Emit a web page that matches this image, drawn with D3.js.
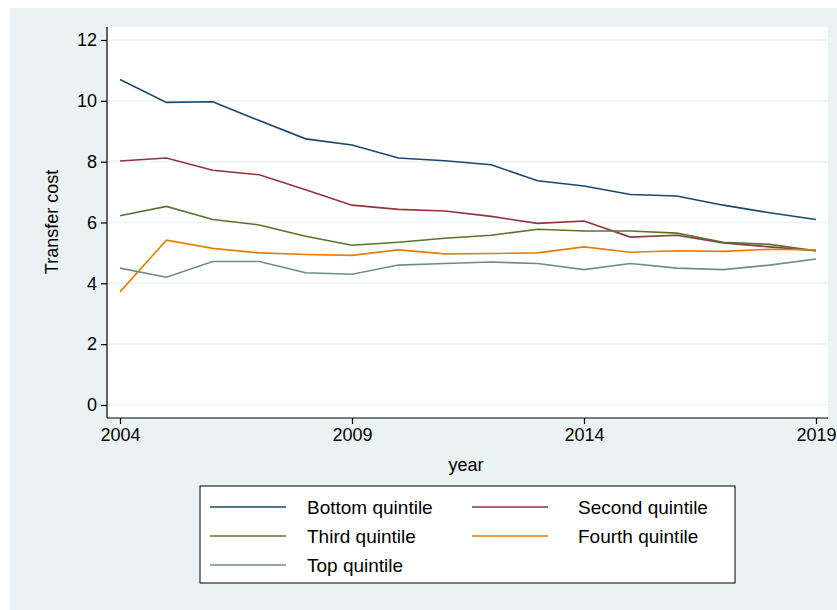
<!DOCTYPE html>
<html><head><meta charset="utf-8">
<script src="https://cdn.jsdelivr.net/npm/d3@7"></script>
<style>body{margin:0;background:#fff}svg{display:block;font-family:Arial,"Liberation Sans",sans-serif}</style>
</head><body><svg id="chart" width="837" height="610"></svg>
<script>
const years = d3.range(2004, 2020);
const bottomQ = [10.7, 9.95, 9.97, 9.35, 8.75, 8.55, 8.12, 8.03, 7.9, 7.37, 7.2, 6.92, 6.87, 6.57, 6.32, 6.1];
const secondQ = [8.02, 8.12, 7.72, 7.57, 7.08, 6.57, 6.43, 6.38, 6.2, 5.97, 6.05, 5.52, 5.58, 5.33, 5.2, 5.07];
const thirdQ = [6.22, 6.53, 6.1, 5.92, 5.55, 5.25, 5.35, 5.48, 5.58, 5.78, 5.72, 5.72, 5.65, 5.35, 5.28, 5.07];
const fourthQ = [3.72, 5.42, 5.15, 5.0, 4.95, 4.92, 5.1, 4.97, 4.98, 5.0, 5.2, 5.02, 5.07, 5.05, 5.12, 5.1];
const topQ = [4.5, 4.2, 4.72, 4.72, 4.35, 4.3, 4.6, 4.65, 4.7, 4.65, 4.45, 4.65, 4.5, 4.45, 4.6, 4.8];
const xTicks = [2004, 2009, 2014, 2019];
const yTicks = [0, 2, 4, 6, 8, 10, 12];

const series = [
  {name: "Bottom quintile", values: bottomQ, color: "#1a476f"},
  {name: "Second quintile", values: secondQ, color: "#90353b"},
  {name: "Third quintile", values: thirdQ, color: "#55752f"},
  {name: "Fourth quintile", values: fourthQ, color: "#e37e00"},
  {name: "Top quintile", values: topQ, color: "#6e8e84"}
];

const svg = d3.select("#chart");
svg.append("rect").attr("x", 10).attr("y", 8).attr("width", 827).attr("height", 602).attr("fill", "#eaf2f3");
svg.append("rect").attr("x", 107).attr("y", 27).attr("width", 721).attr("height", 391).attr("fill", "#fff");

const x = d3.scaleLinear().domain([2004, 2019]).range([120, 816]);
const y = d3.scaleLinear().domain([0, 12]).range([405, 40]);

// gridlines
svg.append("g").selectAll("line").data(yTicks).join("line")
  .attr("x1", 107).attr("x2", 828).attr("y1", d => y(d)).attr("y2", d => y(d))
  .attr("stroke", "#eaf2f3").attr("stroke-width", 1.2);

const yAxis = svg.append("g").attr("transform", "translate(107,0)")
  .call(d3.axisLeft(y).tickValues(yTicks).tickSize(6).tickPadding(4).tickSizeOuter(0));
yAxis.select(".domain").attr("d", "M0,27V418");
const xAxis = svg.append("g").attr("transform", "translate(0,418)")
  .call(d3.axisBottom(x).tickValues(xTicks).tickFormat(d3.format("d")).tickSize(6).tickPadding(4).tickSizeOuter(0));
xAxis.select(".domain").attr("d", "M107,0H828");
svg.selectAll(".tick text").attr("font-size", 18).attr("fill", "#000");
svg.selectAll(".domain, .tick line").attr("stroke", "#000").attr("stroke-width", 1.2);

svg.append("text").attr("x", 466).attr("y", 471).attr("text-anchor", "middle").attr("font-size", 18).text("year");
svg.append("text").attr("transform", "translate(58,222) rotate(-90)").attr("text-anchor", "middle").attr("font-size", 18).text("Transfer cost");

const line = d3.line().x((d, i) => x(years[i])).y(d => y(d));
svg.append("g").selectAll("path").data(series).join("path")
  .attr("d", d => line(d.values)).attr("fill", "none")
  .attr("stroke", d => d.color).attr("stroke-width", 1.6);

// legend
svg.append("rect").attr("x", 200).attr("y", 486).attr("width", 535).attr("height", 97)
  .attr("fill", "#fff").attr("stroke", "#000").attr("stroke-width", 1);
const lg = svg.append("g").selectAll("g").data(series).join("g")
  .attr("transform", (d, i) => `translate(${i % 2 ? 472 : 210},${507 + Math.floor(i / 2) * 29})`);
lg.append("line").attr("x1", 0).attr("x2", 76).attr("stroke", d => d.color).attr("stroke-width", 1.6);
lg.append("text").attr("x", d => series.indexOf(d) % 2 ? 106 : 97).attr("y", 7).attr("font-size", 19).text(d => d.name);
</script></body></html>
